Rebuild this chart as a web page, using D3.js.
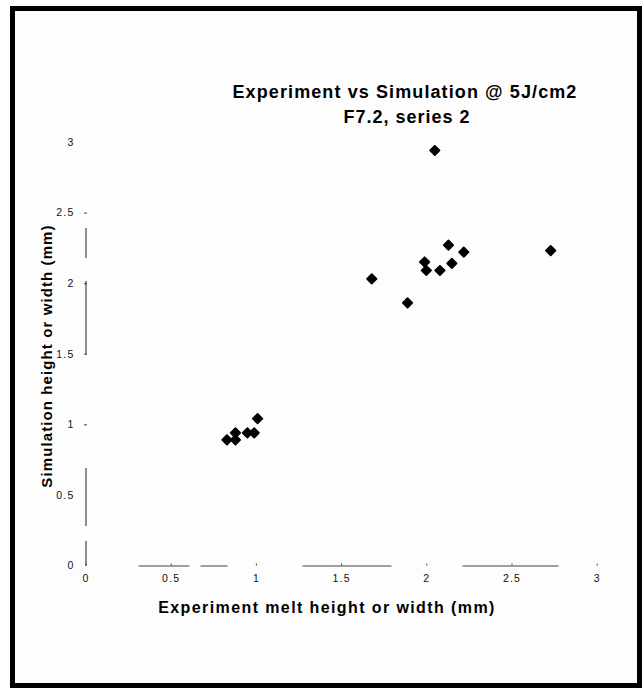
<!DOCTYPE html>
<html>
<head>
<meta charset="utf-8">
<script src="https://cdn.jsdelivr.net/npm/d3@7"></script>
<style>
  html, body { margin: 0; padding: 0; background: #fff; }
  svg { display: block; }
</style>
</head>
<body>
<svg id="chart" width="642" height="690"></svg>
<script>
// ---- data ----
const titleLines = ["Experiment vs Simulation @ 5J/cm2", "F7.2, series 2"];
const xLabel = "Experiment melt height or width (mm)";
const yLabel = "Simulation height or width (mm)";
const xTicks = [0, 0.5, 1, 1.5, 2, 2.5, 3];
const yTicks = [0, 0.5, 1, 1.5, 2, 2.5, 3];
const expValues = [2.05, 2.13, 2.22, 2.73, 1.99, 2.15, 2.00, 2.08, 1.68, 1.89, 1.01, 0.95, 0.99, 0.88, 0.83, 0.88];
const simValues = [2.94, 2.27, 2.22, 2.23, 2.15, 2.14, 2.09, 2.09, 2.03, 1.86, 1.04, 0.94, 0.94, 0.94, 0.89, 0.89];

// ---- layout ----
const svg = d3.select("#chart");
const plot = { left: 85.5, right: 596.7, top: 142, bottom: 565.5 };

// frame
svg.append("rect").attr("x", 12.5).attr("y", 8.5).attr("width", 627).attr("height", 677)
  .attr("fill", "#fdfdfd").attr("stroke", "#000").attr("stroke-width", 5);

const x = d3.scaleLinear().domain([0, 3]).range([plot.left, plot.right]);
const y = d3.scaleLinear().domain([0, 3]).range([plot.bottom, plot.top]);

const fmt = d => d === 0 ? "0" : String(d);
const tickFont = "'Liberation Sans', Arial, sans-serif";

// x axis
const gx = svg.append("g").attr("transform", `translate(0,${plot.bottom})`)
  .call(d3.axisBottom(x).tickValues(xTicks).tickFormat(fmt).tickSizeOuter(0).tickSizeInner(2).tickPadding(7));
gx.select(".domain").attr("stroke", "#444").attr("stroke-width", 1.2)
  .attr("stroke-dasharray", "0,52.5,51,11,27,75,89,71,96,200");
gx.selectAll(".tick line").attr("stroke", "#444").attr("transform", "translate(0,-2)");
gx.selectAll(".tick text").attr("font-family", tickFont)
  .attr("font-size", 10.5).attr("letter-spacing", 1.2).attr("fill", "#111");

// y axis
const gy = svg.append("g").attr("transform", `translate(${plot.left},0)`)
  .call(d3.axisLeft(y).tickValues(yTicks).tickFormat(fmt).tickSizeOuter(0).tickSizeInner(3).tickPadding(8));
gy.select(".domain").attr("stroke", "#444").attr("stroke-width", 1.2)
  .attr("stroke-dasharray", "25,15,58,114,73,23,30,300");
gy.selectAll(".tick line").attr("stroke", "#444").attr("transform", "translate(1.5,0)");
gy.selectAll(".tick").filter(d => d === 0 || d === 3 || d === 0.5).select("line").remove();
gy.selectAll(".tick text").attr("font-family", tickFont)
  .attr("font-size", 10.5).attr("letter-spacing", 1.2).attr("fill", "#111");

// points
const sym = d3.symbol().type(d3.symbolSquare).size(44);
svg.append("g").selectAll("path").data(expValues.map((v, i) => [v, simValues[i]]))
  .join("path")
  .attr("d", sym)
  .attr("transform", d => `translate(${x(d[0])},${y(d[1])}) rotate(45)`)
  .attr("fill", "#000").attr("stroke", "#000").attr("stroke-width", 1.8).attr("stroke-linejoin", "round");

// titles
const tf = "'Liberation Sans', Arial, Helvetica, sans-serif";
svg.append("text").attr("x", 405).attr("y", 98).attr("text-anchor", "middle")
  .attr("font-family", tf).attr("font-weight", "bold").attr("font-size", 18).attr("letter-spacing", 1.1)
  .attr("fill", "#000").text(titleLines[0]);
svg.append("text").attr("x", 407).attr("y", 123).attr("text-anchor", "middle")
  .attr("font-family", tf).attr("font-weight", "bold").attr("font-size", 18).attr("letter-spacing", 1)
  .attr("fill", "#000").text(titleLines[1]);

svg.append("text").attr("x", 327).attr("y", 613).attr("text-anchor", "middle")
  .attr("font-family", tf).attr("font-weight", "bold").attr("font-size", 16).attr("letter-spacing", 1.4)
  .attr("fill", "#000").text(xLabel);

svg.append("text").attr("transform", "translate(52,356) rotate(-90)").attr("text-anchor", "middle")
  .attr("font-family", tf).attr("font-weight", "bold").attr("font-size", 15).attr("letter-spacing", 1.1)
  .attr("fill", "#000").text(yLabel);
</script>
</body>
</html>
